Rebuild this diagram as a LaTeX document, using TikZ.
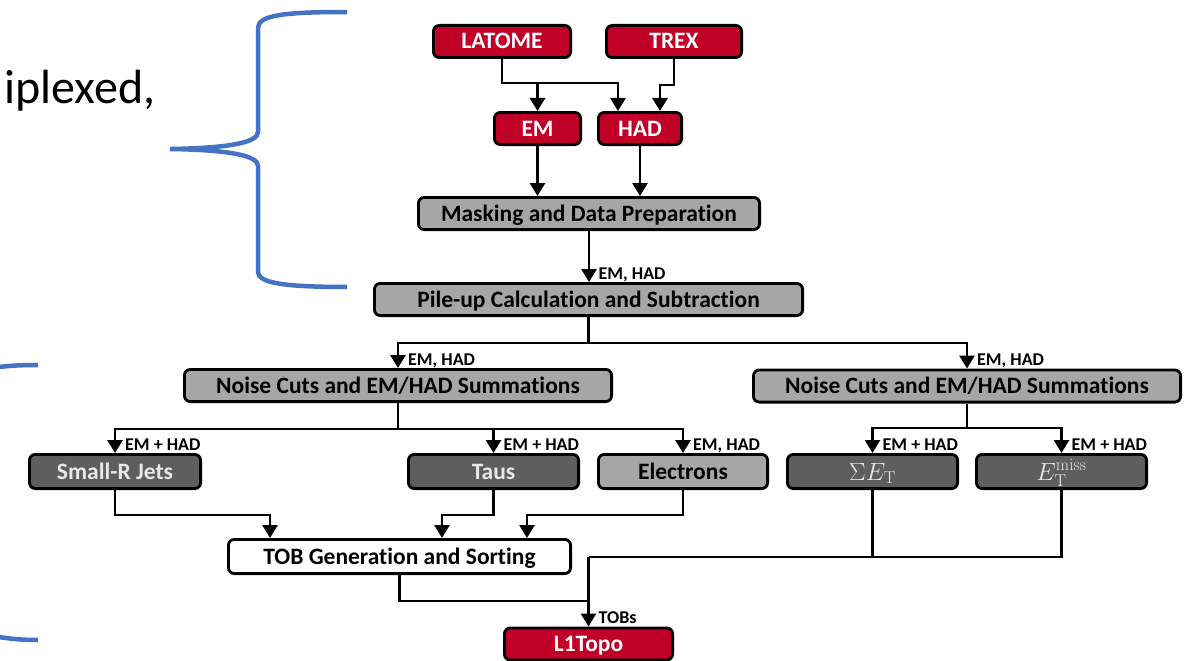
\documentclass[tikz,border=0pt]{standalone}
\usepackage[no-math]{fontspec}
\setmainfont{Carlito}[Ligatures=NoCommon]
\usetikzlibrary{arrows.meta,calc}
\definecolor{redc}{RGB}{192,0,39}
\definecolor{lgray}{RGB}{166,166,166}
\definecolor{dgray}{RGB}{94,94,94}
\definecolor{dtext}{RGB}{232,232,232}
\definecolor{bracec}{RGB}{68,114,196}
\tikzset{
  box/.style={draw=black, line width=2.8pt, rounded corners=6pt, inner sep=0pt,
    minimum height=32.2pt, text height=15pt, text depth=0pt,
    font=\bfseries\fontsize{23.5}{26}\selectfont},
  tallbox/.style={box, minimum height=34.2pt},
  redbox/.style={box, fill=redc, text=white},
  lgbox/.style={box, fill=lgray, text=black},
  dgbox/.style={tallbox, fill=dgray, text=dtext},
  mathbox/.style={dgbox, text height=17pt, font=\fontsize{25}{27}\selectfont},
  whbox/.style={tallbox, fill=white, text=black},
  conn/.style={line width=2.8pt, draw=black},
  arr/.style={conn, -{Triangle[width=15pt,length=13pt]}},
  lbl/.style={font=\bfseries\fontsize{18}{19}\selectfont, inner sep=0pt, anchor=base west},
  bracel/.style={draw=bracec, line width=4.5pt}
}
\begin{document}
\begin{tikzpicture}[x=1pt,y=-1pt]
\useasboundingbox (0,0) rectangle (1184,661);
\clip (0,0) rectangle (1184,661);
\fill[white] (0,0) rectangle (1184,661);

% side text and braces
\node[anchor=base west, inner sep=0pt, font=\fontsize{48}{50}\selectfont] (side) at (4,103) {iplexed,};
\draw[bracel] (347,12) .. controls (285,12) and (258,15) .. (258,28)
  -- (258,132) .. controls (258,142) and (232,148) .. (170,149)
  .. controls (232,150) and (258,156) .. (258,166)
  -- (258,272) .. controls (258,283) and (285,287) .. (347,287);
\draw[bracel] (38,365) .. controls (18,365) and (5,366) .. (-8,368);
\draw[bracel] (38,640) .. controls (18,640) and (5,638) .. (-8,636);

% nodes
\node[redbox, minimum width=137.2pt] (latome) at (502,41.5) {LATOME};
\node[redbox, minimum width=135.2pt] (trex) at (674,41.5) {TREX};
\node[redbox, minimum width=86.2pt] (em) at (537.5,128.5) {EM};
\node[redbox, minimum width=83.2pt] (had) at (640,128.5) {HAD};
\node[lgbox, minimum width=341.2pt] (mask) at (589,213.5) {Masking and Data Preparation};
\node[lgbox, minimum width=428.2pt] (pile) at (588.5,299.5) {Pile-up Calculation and Subtraction};
\node[lgbox, minimum width=427.2pt] (noisel) at (398,385.5) {Noise Cuts and EM/HAD Summations};
\node[lgbox, minimum width=427.2pt] (noiser) at (967,386) {Noise Cuts and EM/HAD Summations};
\node[dgbox, minimum width=171.2pt] (smallr) at (115,471.5) {Small-R Jets};
\node[dgbox, minimum width=170.2pt] (taus) at (493.5,471.5) {Taus};
\node[tallbox, fill=lgray, text=black, minimum width=169.2pt] (elec) at (683,471.5) {Electrons};
\node[mathbox, minimum width=170.2pt] (sumet) at (872.5,471.5) {$\Sigma E_{\mathrm{T}}$};
\node[mathbox, minimum width=170.2pt] (met) at (1061.5,471.5) {$E_{\mathrm{T}}^{\mathrm{miss}}$};
\node[whbox, minimum width=342.2pt] (tob) at (399.5,556.5) {TOB Generation and Sorting};
\node[redbox, minimum width=168.2pt] (l1) at (588.5,644) {L1Topo};

% top connectors
\coordinate (jl) at (502,83);
\coordinate (jt) at (674,85);
\draw[arr] (latome.south) -- (jl) -| ([xshift=-22pt]had.north);
\draw[arr] (jl -| em.north) -- (em.north);
\draw[arr] (trex.south) -- (jt) -| ([xshift=20pt]had.north);
\draw[arr] (em.south) -- (em.south |- mask.north);
\draw[arr] (had.south) -- (had.south |- mask.north);
\draw[arr] (mask.south) -- (mask.south |- pile.north);
\node[lbl] at ([xshift=10pt,yshift=3pt]pile.north) {EM, HAD};

% pile-up to noise
\coordinate (jp) at (588.5,343);
\draw[conn] (pile.south) -- (jp);
\draw[arr] (jp) -| (noisel.north);
\draw[arr] (jp) -| (noiser.north);
\node[lbl] at ([xshift=10pt,yshift=3pt]noisel.north) {EM, HAD};
\node[lbl] at ([xshift=10pt,yshift=3pt]noiser.north) {EM, HAD};

% noise left to objects
\coordinate (jn) at (398,429);
\draw[conn] (noisel.south) -- (jn);
\draw[arr] (jn) -| (smallr.north);
\draw[arr] (jn) -| (elec.north);
\draw[arr] (jn -| taus.north) -- (taus.north);
\node[lbl] at ([xshift=10pt,yshift=3pt]smallr.north) {EM + HAD};
\node[lbl] at ([xshift=10pt,yshift=3pt]taus.north) {EM + HAD};
\node[lbl] at ([xshift=10pt,yshift=3pt]elec.north) {EM, HAD};

% noise right to energy sums
\coordinate (jr) at (967,428);
\draw[conn] (noiser.south) -- (jr);
\draw[arr] (jr) -| (sumet.north);
\draw[arr] (jr) -| (met.north);
\node[lbl] at ([xshift=10pt,yshift=3pt]sumet.north) {EM + HAD};
\node[lbl] at ([xshift=10pt,yshift=3pt]met.north) {EM + HAD};

% objects to TOB
\draw[arr] (smallr.south) -- ++(0,25) -| ([xshift=-129.5pt]tob.north);
\draw[arr] (taus.south) -- ++(0,25) -| ([xshift=42.5pt]tob.north);
\draw[arr] (elec.south) -- ++(0,25) -| ([xshift=127.5pt]tob.north);

% to L1Topo
\coordinate (jm) at (588.5,557);
\coordinate (jb) at (588.5,601);
\draw[conn] (tob.south) |- (jb);
\draw[conn] (sumet.south) |- (jm);
\draw[conn] (met.south) |- (sumet.south |- jm);
\draw[arr] (jm) -- (l1.north);
\node[lbl] at ([xshift=10pt,yshift=3pt]l1.north) {TOBs};
\end{tikzpicture}
\end{document}
